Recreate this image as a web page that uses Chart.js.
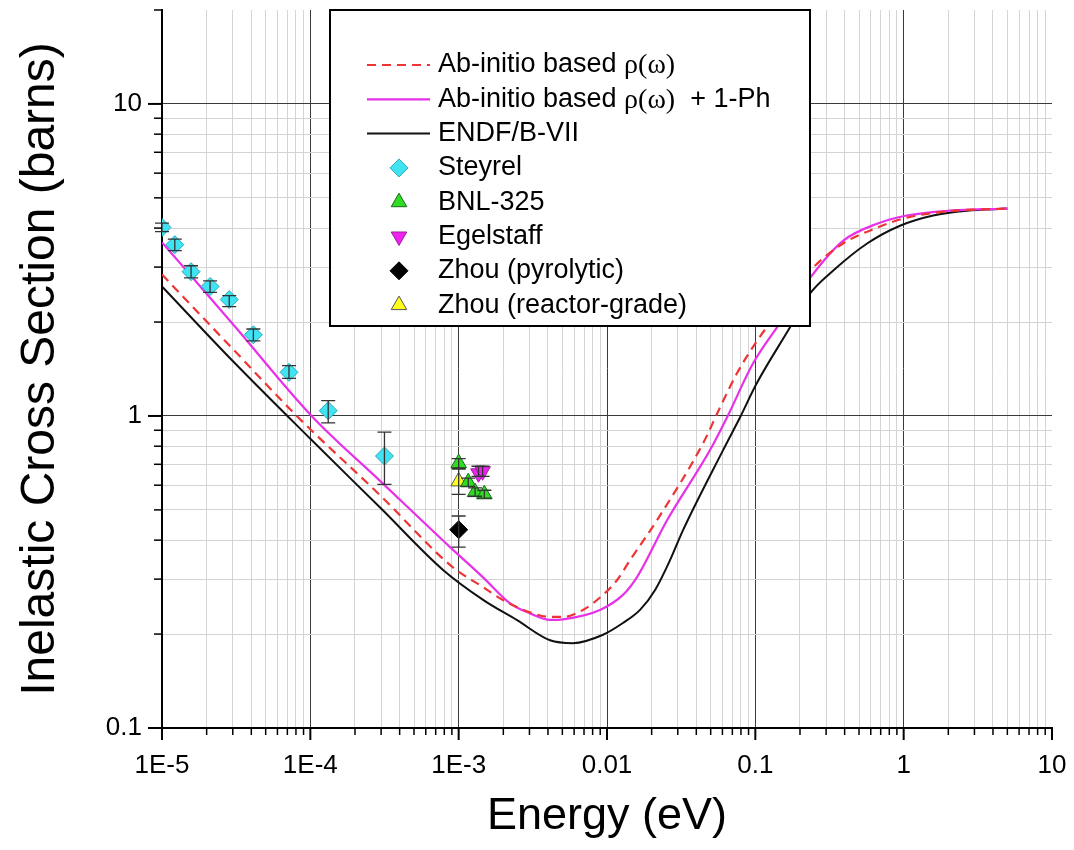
<!DOCTYPE html>
<html>
<head>
<meta charset="utf-8">
<script src="https://cdn.jsdelivr.net/npm/chart.js@4.4.0/dist/chart.umd.min.js"></script>
<style>
  html, body { margin: 0; padding: 0; background: #fff; }
</style>
</head>
<body>
<canvas id="xsChart" width="1074" height="850"></canvas>
<script>
// ---- data ----
const xTickLabels = ['1E-5', '1E-4', '1E-3', '0.01', '0.1', '1', '10'];
const yTickLabels = ['0.1', '1', '10'];

// Ab-initio based rho(omega) (red dashed)
const abE  = [1e-5, 3e-5, 8.1e-5, 3e-4, 9.16e-4, 1.46e-3, 1.99e-3, 3.17e-3, 4.13e-3, 5.05e-3, 6.89e-3, 9.4e-3, 1.17e-2, 1.43e-2, 2.17e-2, 4.44e-2, 5.78e-2, 7.52e-2, 0.1026, 0.146, 0.234, 0.39, 0.661, 1.05, 2.0, 5.0];
const abXS = [2.84, 1.64, 1.0, 0.553, 0.327, 0.283, 0.257, 0.233, 0.227, 0.227, 0.239, 0.267, 0.298, 0.345, 0.463, 0.817, 1.065, 1.37, 1.74, 2.18, 2.92, 3.57, 4.01, 4.32, 4.53, 4.62];

// Ab-initio based rho(omega) + 1-Ph (magenta)
const ab1E  = [1e-5, 3e-5, 1.02e-4, 3e-4, 8.75e-4, 1.46e-3, 2.22e-3, 3.03e-3, 4.13e-3, 5.05e-3, 8.97e-3, 1.28e-2, 1.59e-2, 2.54e-2, 4.94e-2, 6.44e-2, 9.62e-2, 0.146, 0.234, 0.39, 0.661, 1.05, 2.05, 5.0];
const ab1XS = [3.6, 1.97, 1.0, 0.615, 0.380, 0.304, 0.251, 0.233, 0.222, 0.223, 0.239, 0.267, 0.304, 0.463, 0.776, 0.989, 1.47, 1.98, 2.77, 3.64, 4.13, 4.39, 4.55, 4.62];

// ENDF/B-VII (black)
const endfE  = [1e-5, 3e-5, 1e-4, 3e-4, 7.85e-4, 1.47e-3, 2.46e-3, 4.13e-3, 5.9e-3, 9.4e-3, 1.28e-2, 1.67e-2, 2.11e-2, 2.66e-2, 3.25e-2, 6.05e-2, 7.88e-2, 0.102, 0.171, 0.234, 0.334, 0.567, 0.945, 1.58, 2.67, 5.0];
const endfXS = [2.60, 1.50, 0.845, 0.505, 0.321, 0.257, 0.222, 0.191, 0.187, 0.199, 0.217, 0.239, 0.277, 0.345, 0.430, 0.776, 0.989, 1.27, 1.92, 2.47, 2.92, 3.57, 4.07, 4.39, 4.55, 4.62];

// measurements
const steyrelE  = [1.0e-5, 1.22e-5, 1.57e-5, 2.11e-5, 2.84e-5, 4.13e-5, 7.18e-5, 1.32e-4, 3.16e-4];
const steyrelXS = [4.02, 3.54, 2.90, 2.60, 2.36, 1.82, 1.38, 1.04, 0.744];
const steyrelLo = [3.90, 3.39, 2.77, 2.49, 2.24, 1.74, 1.32, 0.95, 0.604];
const steyrelHi = [4.15, 3.69, 3.03, 2.71, 2.43, 1.90, 1.45, 1.12, 0.887];

const bnlE  = [1.0e-3, 1.16e-3, 1.29e-3, 1.49e-3];
const bnlXS = [0.706, 0.613, 0.570, 0.561];
const bnlLo = [0.68, 0.595, 0.553, 0.545];
const bnlHi = [0.73, 0.632, 0.588, 0.578];

const egelE  = [1.36e-3, 1.45e-3];
const egelXS = [0.655, 0.665];
const egelLo = [0.64, 0.64];
const egelHi = [0.69, 0.69];

const zhouPyroE  = [1.0e-3];
const zhouPyroXS = [0.432];
const zhouPyroLo = [0.380];
const zhouPyroHi = [0.478];

const zhouRgE  = [1.0e-3];
const zhouRgXS = [0.617];
const zhouRgLo = [0.561];
const zhouRgHi = [0.676];

// ---- helpers ----
const toPts = (xs, ys) => xs.map((x, i) => ({ x: x, y: ys[i] }));
const isDecade = v => Math.abs(Math.log10(v) - Math.round(Math.log10(v))) < 1e-6;

// 1..9 x 10^e for every decade, the closing decade, then any extra values
function logTicks(minExp, maxExp, extra) {
  const t = [];
  for (let e = minExp; e < maxExp; e++) {
    for (let k = 1; k <= 9; k++) t.push({ value: k * Math.pow(10, e) });
  }
  t.push({ value: Math.pow(10, maxExp) });
  (extra || []).forEach(v => t.push({ value: v }));
  return t;
}

const SANS = "'Liberation Sans', Arial, sans-serif";
const SERIF = "'Liberation Serif', 'Times New Roman', serif";

// error bars, drawn through the chart's own scales
const errorBars = {
  id: 'errorBars',
  afterDatasetsDraw(chart) {
    const ctx = chart.ctx, xs = chart.scales.x, ys = chart.scales.y;
    ctx.save();
    ctx.strokeStyle = '#333';
    ctx.lineWidth = 1.3;
    chart.data.datasets.forEach(ds => {
      if (!ds.errLo) return;
      ds.data.forEach((p, i) => {
        const px = xs.getPixelForValue(p.x);
        const y1 = ys.getPixelForValue(ds.errLo[i]);
        const y2 = ys.getPixelForValue(ds.errHi[i]);
        ctx.beginPath();
        ctx.moveTo(px, y1); ctx.lineTo(px, y2);
        ctx.moveTo(px - 7, y1); ctx.lineTo(px + 7, y1);
        ctx.moveTo(px - 7, y2); ctx.lineTo(px + 7, y2);
        ctx.stroke();
      });
    });
    ctx.restore();
  }
};

// outward tick marks, major longer than minor
const tickMarks = {
  id: 'tickMarks',
  afterDraw(chart) {
    const ctx = chart.ctx, xs = chart.scales.x, ys = chart.scales.y;
    const a = chart.chartArea;
    ctx.save();
    ctx.strokeStyle = '#000';
    xs.ticks.forEach(t => {
      const px = xs.getPixelForValue(t.value);
      const major = isDecade(t.value);
      ctx.lineWidth = major ? 2 : 1.5;
      ctx.beginPath();
      ctx.moveTo(px, a.bottom);
      ctx.lineTo(px, a.bottom + (major ? 12 : 7));
      ctx.stroke();
    });
    ys.ticks.forEach(t => {
      const py = ys.getPixelForValue(t.value);
      const major = isDecade(t.value);
      ctx.lineWidth = major ? 2 : 1.5;
      ctx.beginPath();
      ctx.moveTo(a.left, py);
      ctx.lineTo(a.left - (major ? 14 : 8), py);
      ctx.stroke();
    });
    ctx.restore();
  }
};

// boxed legend inside the plot
const boxLegend = {
  id: 'boxLegend',
  afterDraw(chart) {
    const ctx = chart.ctx, a = chart.chartArea;
    const bx = a.left + 168, by = a.top, bw = 480, bh = 316;
    ctx.save();
    ctx.fillStyle = '#fff';
    ctx.fillRect(bx, by, bw, bh);
    ctx.strokeStyle = '#000';
    ctx.lineWidth = 2;
    ctx.strokeRect(bx, by, bw, bh);
    ctx.textBaseline = 'middle';
    chart.data.datasets.forEach((ds, i) => {
      const y = by + 55 + i * 34.3;
      if (ds.showLine) {
        ctx.beginPath();
        ctx.strokeStyle = ds.borderColor;
        ctx.lineWidth = ds.borderWidth;
        ctx.setLineDash(ds.borderDash || []);
        ctx.moveTo(bx + 37, y);
        ctx.lineTo(bx + 100, y);
        ctx.stroke();
        ctx.setLineDash([]);
      } else {
        ctx.fillStyle = ds.backgroundColor;
        ctx.strokeStyle = ds.borderColor;
        ctx.lineWidth = ds.borderWidth;
        Chart.helpers.drawPoint(ctx, {
          pointStyle: ds.pointStyle, radius: ds.pointRadius,
          rotation: ds.rotation || 0, borderWidth: ds.borderWidth
        }, bx + 69, y);
      }
      // label, with rho(omega) in a serif face
      let x = bx + 108;
      ctx.fillStyle = '#000';
      const parts = ds.label.split('ρ(ω)');
      parts.forEach((part, j) => {
        ctx.font = '27px ' + SANS;
        ctx.fillText(part, x, y);
        x += ctx.measureText(part).width;
        if (j < parts.length - 1) {
          ctx.font = '28px ' + SERIF;
          ctx.fillText('ρ(ω)', x, y + 1);
          x += ctx.measureText('ρ(ω)').width;
        }
      });
    });
    ctx.restore();
  }
};

const curve = (label, xs, ys, color, width, dash) => ({
  label: label, data: toPts(xs, ys), showLine: true, borderColor: color,
  borderWidth: width, borderDash: dash, pointRadius: 0, pointHoverRadius: 0,
  cubicInterpolationMode: 'monotone', fill: false, order: 2
});

const marks = (label, xs, ys, lo, hi, style, fill, edge, rot) => ({
  label: label, data: toPts(xs, ys), showLine: false, pointStyle: style,
  pointRadius: 9, pointHoverRadius: 9, backgroundColor: fill, borderColor: edge,
  borderWidth: 1, rotation: rot || 0, errLo: lo, errHi: hi, order: 1
});

const ctx = document.getElementById('xsChart').getContext('2d');
const xsChart = new Chart(ctx, {
  type: 'scatter',
  data: {
    datasets: [
      curve('Ab-initio based ρ(ω)', abE, abXS, '#ee3535', 2.2, [9, 6]),
      curve('Ab-initio based ρ(ω)  + 1-Ph', ab1E, ab1XS, '#e830e8', 2.2, []),
      curve('ENDF/B-VII', endfE, endfXS, '#111', 2, []),
      marks('Steyrel', steyrelE, steyrelXS, steyrelLo, steyrelHi, 'rectRot', '#3fe3f2', '#2aa7b5'),
      marks('BNL-325', bnlE, bnlXS, bnlLo, bnlHi, 'triangle', '#2fdc22', '#1a6a1a'),
      marks('Egelstaff', egelE, egelXS, egelLo, egelHi, 'triangle', '#ee22ee', '#992299', 180),
      marks('Zhou (pyrolytic)', zhouPyroE, zhouPyroXS, zhouPyroLo, zhouPyroHi, 'rectRot', '#000', '#000'),
      marks('Zhou (reactor-grade)', zhouRgE, zhouRgXS, zhouRgLo, zhouRgHi, 'triangle', '#ffff1a', '#555')
    ]
  },
  options: {
    responsive: false,
    animation: false,
    layout: { padding: { top: 8, right: 22, left: 0, bottom: 0 } },
    plugins: {
      legend: { display: false },
      tooltip: { enabled: false }
    },
    scales: {
      x: {
        type: 'logarithmic',
        min: 1e-5,
        max: 10,
        afterBuildTicks: scale => { scale.ticks = logTicks(-5, 1); },
        afterFit: scale => {
          scale.height = 122;
          scale.paddingLeft = 0;
          scale.paddingRight = 0;
        },
        border: { display: true, color: '#000', width: 2 },
        grid: {
          drawTicks: false,
          lineWidth: 1,
          color: c => (c.tick && c.tick.value >= 10) ? 'rgba(0,0,0,0)' :
            (c.tick && isDecade(c.tick.value) ? '#3a3a3a' : '#d4d4d4')
        },
        ticks: {
          autoSkip: false,
          maxRotation: 0,
          padding: 22,
          color: '#000',
          font: { size: 26, family: SANS },
          callback: v => isDecade(v) ? xTickLabels[Math.round(Math.log10(v)) + 5] : ''
        },
        title: {
          display: true,
          text: 'Energy (eV)',
          color: '#000',
          font: { size: 45, family: SANS },
          padding: { top: 0, bottom: 6 }
        }
      },
      y: {
        type: 'logarithmic',
        min: 0.1,
        max: 20,
        afterBuildTicks: scale => { scale.ticks = logTicks(-1, 1, [20]); },
        afterFit: scale => {
          scale.width = 162;
          scale.paddingTop = 0;
          scale.paddingBottom = 0;
        },
        border: { display: true, color: '#000', width: 2 },
        grid: {
          drawTicks: false,
          lineWidth: 1,
          color: c => (c.tick && c.tick.value > 15) ? 'rgba(0,0,0,0)' :
            (c.tick && isDecade(c.tick.value) ? '#3a3a3a' : '#d4d4d4')
        },
        ticks: {
          autoSkip: false,
          padding: 20,
          color: '#000',
          font: { size: 26, family: SANS },
          callback: v => isDecade(v) ? yTickLabels[Math.round(Math.log10(v)) + 1] : ''
        },
        title: {
          display: true,
          text: 'Inelastic Cross Section (barns)',
          color: '#000',
          font: { size: 48, family: SANS },
          padding: { top: 12, bottom: 0 }
        }
      }
    }
  },
  plugins: [errorBars, tickMarks, boxLegend]
});
</script>
</body>
</html>
